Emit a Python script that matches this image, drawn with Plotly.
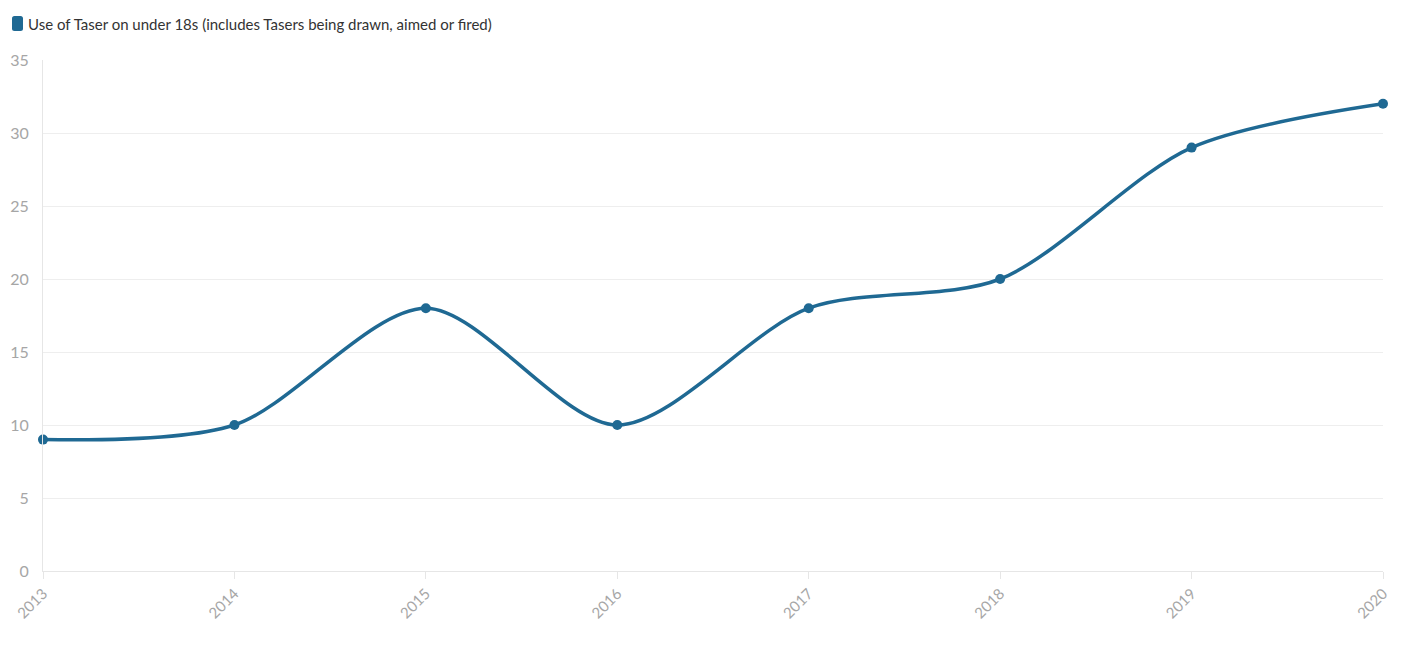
import plotly.graph_objects as go

years = ["2013", "2014", "2015", "2016", "2017", "2018", "2019", "2020"]
values = [9, 10, 18, 10, 18, 20, 29, 32]
series_name = "Use of Taser on under 18s (includes Tasers being drawn, aimed or fired)"
y_ticks = [0, 5, 10, 15, 20, 25, 30, 35]

color = "#1f6993"
W, H = 1415, 651
ML, MR, MT, MB = 35, 40, 52, 88
PW, PH = W - ML - MR, H - MT - MB


def px_to_paper(x, y):
    return (x - ML) / PW, 1 + (MT - y) / PH


fig = go.Figure()
fig.add_trace(go.Scatter(
    x=years, y=values, mode="lines+markers",
    line=dict(color=color, width=3.5, shape="spline", smoothing=0.85),
    marker=dict(color=color, size=10),
    showlegend=False, name=series_name, cliponaxis=False,
))

# legend swatch (rounded square) in figure pixel space converted to paper
sx0, sy0, sx1, sy1, r = 4, 8, 15, 23, 2.5
def P(x, y):
    px, py = px_to_paper(x, y)
    return f"{px:.6f},{py:.6f}"
path = (f"M {P(sx0 + r, sy0)} L {P(sx1 - r, sy0)} Q {P(sx1, sy0)} {P(sx1, sy0 + r)} "
        f"L {P(sx1, sy1 - r)} Q {P(sx1, sy1)} {P(sx1 - r, sy1)} "
        f"L {P(sx0 + r, sy1)} Q {P(sx0, sy1)} {P(sx0, sy1 - r)} "
        f"L {P(sx0, sy0 + r)} Q {P(sx0, sy0)} {P(sx0 + r, sy0)} Z")
fig.add_shape(type="path", path=path, xref="paper", yref="paper",
              fillcolor=color, line=dict(width=0))

ax, ay = px_to_paper(18, 16)
fig.add_annotation(text=series_name, xref="paper", yref="paper", x=ax, y=ay,
                   xanchor="left", yanchor="middle", showarrow=False,
                   font=dict(size=15, color="#333333"))

fig.update_layout(
    width=W, height=H,
    margin=dict(l=ML, r=MR, t=MT, b=MB, autoexpand=False),
    paper_bgcolor="white", plot_bgcolor="white",
    font=dict(family="Lato, 'Open Sans', sans-serif", size=14, color="#333"),
    showlegend=False,
    xaxis=dict(type="category", range=[0, 7], showgrid=False,
               showline=True, linecolor="#e6e6e6", linewidth=1,
               ticks="outside", ticklen=7, tickcolor="#e6e6e6",
               tickangle=-45, tickfont=dict(size=15, color="#a6a6a6"),
               zeroline=False, automargin=False),
    yaxis=dict(range=[0, 35], tickvals=y_ticks, showgrid=True,
               gridcolor="#eeeeee", gridwidth=1,
               showline=True, linecolor="#e6e6e6", linewidth=1,
               ticks="outside", ticklen=10, tickcolor="rgba(0,0,0,0)",
               tickfont=dict(size=16, color="#a6a6a6"), zeroline=False,
               automargin=False),
)

fig.write_html("out.html")
